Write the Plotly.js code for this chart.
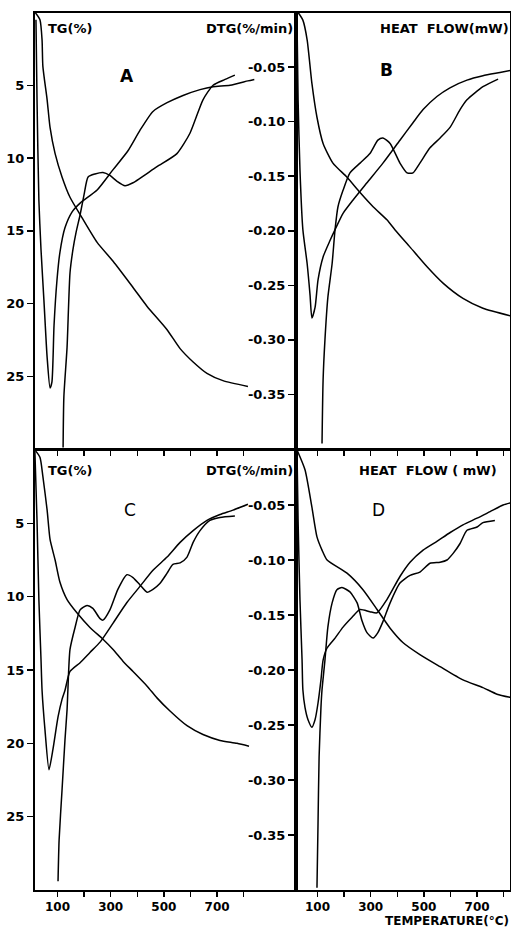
<!DOCTYPE html>
<html>
<head>
<meta charset="utf-8">
<script src="https://cdn.plot.ly/plotly-3.0.1.min.js"></script>
<style>html,body{margin:0;padding:0;background:#fff;}#chart{width:511px;height:930px;}</style>
</head>
<body>
<div id="chart"></div>
<script>
// ---------- Panel A (TG % scale) ----------
const A_tg_T  = [16, 34, 42, 45, 61, 72, 91, 117, 147, 192, 249, 309, 384, 437, 512, 561, 609, 662, 722, 816];
const A_tg    = [0, 0.5, 1.9, 3.7, 6.0, 7.9, 9.7, 11.3, 12.7, 14.1, 15.8, 17.1, 18.9, 20.2, 21.8, 23.1, 24.0, 24.8, 25.3, 25.7];
const A_dtg_T = [19, 23, 30, 38, 49, 61, 72, 79, 87, 98, 109, 128, 155, 185, 249, 309, 365, 410, 459, 512, 572, 636, 685, 749, 816, 840];
const A_dtg   = [0.5, 6.0, 12.9, 16.3, 19.8, 23.7, 25.8, 25.4, 21.5, 18.4, 16.5, 14.8, 13.7, 13.1, 12.2, 10.8, 9.5, 8.1, 6.8, 6.2, 5.7, 5.3, 5.1, 5.0, 4.7, 4.6];
const A_hf_T  = [121, 124, 136, 147, 158, 170, 185, 200, 215, 241, 271, 297, 324, 354, 384, 410, 474, 549, 598, 647, 685, 730, 767];
const A_hf    = [29.9, 26.4, 23.0, 17.9, 16.3, 15.1, 13.9, 12.5, 11.3, 11.1, 11.0, 11.2, 11.6, 11.9, 11.7, 11.4, 10.6, 9.7, 8.3, 6.0, 5.0, 4.6, 4.3];

// ---------- Panel B (heat-flow mW scale) ----------
const B_tg_T  = [27, 45, 61, 79, 98, 121, 158, 211, 260, 309, 361, 391, 448, 512, 572, 647, 722, 827];
const B_tg    = [0, -0.007, -0.025, -0.065, -0.096, -0.120, -0.138, -0.151, -0.165, -0.178, -0.190, -0.199, -0.215, -0.233, -0.248, -0.262, -0.271, -0.278];
const B_dtg_T = [23, 27, 34, 45, 61, 72, 79, 91, 102, 121, 147, 166, 196, 233, 286, 346, 410, 459, 497, 549, 598, 662, 722, 786, 827];
const B_dtg   = [-0.007, -0.080, -0.144, -0.199, -0.230, -0.259, -0.280, -0.270, -0.245, -0.224, -0.209, -0.199, -0.184, -0.172, -0.156, -0.138, -0.117, -0.101, -0.089, -0.077, -0.069, -0.062, -0.058, -0.055, -0.053];
const B_hf_T  = [117, 121, 128, 139, 155, 166, 177, 196, 222, 260, 298, 327, 346, 373, 410, 437, 459, 485, 523, 561, 599, 636, 662, 722, 779];
const B_hf    = [-0.395, -0.337, -0.300, -0.261, -0.230, -0.199, -0.178, -0.163, -0.147, -0.138, -0.129, -0.117, -0.115, -0.120, -0.138, -0.147, -0.147, -0.138, -0.124, -0.115, -0.105, -0.089, -0.080, -0.068, -0.061];

// ---------- Panel C (TG % scale) ----------
const C_tg_T  = [15, 34, 45, 61, 72, 91, 109, 136, 173, 222, 271, 309, 346, 384, 437, 474, 523, 587, 647, 711, 775, 820];
const C_tg    = [0, 0.5, 1.8, 4.1, 6.1, 7.5, 9.0, 10.2, 11.1, 12.1, 12.9, 13.6, 14.4, 15.1, 16.1, 16.9, 17.8, 18.8, 19.4, 19.8, 20.0, 20.2];
const C_dtg_T = [15, 23, 30, 38, 42, 53, 68, 83, 102, 117, 128, 147, 185, 222, 260, 309, 361, 410, 459, 512, 561, 610, 662, 711, 760, 816];
const C_dtg   = [0.1, 4.8, 10.2, 14.3, 16.4, 19.1, 21.8, 20.4, 18.2, 17.0, 16.4, 15.1, 14.5, 13.8, 13.1, 11.8, 10.4, 9.3, 8.2, 7.3, 6.3, 5.5, 4.8, 4.4, 4.1, 3.7];
const C_hf_T  = [102, 106, 117, 128, 136, 139, 147, 166, 185, 211, 233, 260, 271, 297, 327, 361, 384, 410, 437, 459, 485, 512, 534, 561, 587, 610, 636, 673, 711, 767];
const C_hf    = [29.4, 26.6, 23.2, 19.8, 17.7, 16.4, 13.6, 12.1, 10.9, 10.6, 10.8, 11.5, 11.6, 10.9, 9.5, 8.5, 8.7, 9.2, 9.7, 9.5, 9.1, 8.4, 7.8, 7.7, 7.3, 6.3, 5.5, 4.8, 4.6, 4.5];

// ---------- Panel D (heat-flow mW scale) ----------
const D_tg_T  = [23, 53, 79, 98, 117, 136, 211, 271, 324, 373, 421, 485, 561, 647, 722, 775, 827];
const D_tg    = [0, -0.018, -0.052, -0.079, -0.091, -0.100, -0.112, -0.127, -0.145, -0.162, -0.175, -0.186, -0.197, -0.209, -0.216, -0.222, -0.225];
const D_dtg_T = [23, 27, 34, 42, 45, 53, 64, 79, 91, 102, 113, 121, 136, 166, 196, 230, 260, 297, 324, 361, 410, 448, 497, 549, 599, 647, 700, 749, 798, 827];
const D_dtg   = [-0.002, -0.064, -0.136, -0.191, -0.218, -0.234, -0.245, -0.252, -0.245, -0.230, -0.209, -0.191, -0.180, -0.171, -0.161, -0.152, -0.145, -0.147, -0.148, -0.136, -0.115, -0.102, -0.091, -0.083, -0.075, -0.068, -0.062, -0.056, -0.050, -0.048];
const D_hf_T  = [98, 102, 106, 113, 117, 128, 139, 155, 173, 192, 222, 249, 267, 286, 309, 327, 346, 373, 410, 448, 485, 523, 561, 587, 610, 636, 662, 700, 722, 767];
const D_hf    = [-0.398, -0.339, -0.279, -0.234, -0.218, -0.191, -0.161, -0.139, -0.127, -0.125, -0.129, -0.139, -0.155, -0.166, -0.171, -0.166, -0.156, -0.139, -0.121, -0.114, -0.111, -0.103, -0.102, -0.100, -0.094, -0.085, -0.073, -0.070, -0.066, -0.064];

// ---------- Tick labels ----------
const tempTicks   = [100, 200, 300, 400, 500, 600, 700, 800];
const tempLabels  = ['100', '', '300', '', '500', '', '700', ''];
const tgTicks     = [5, 10, 15, 20, 25];
const tgLabels    = ['5', '10', '15', '20', '25'];
const hfTicks     = [-0.05, -0.10, -0.15, -0.20, -0.25, -0.30, -0.35];
const hfLabels    = ['-0.05', '-0.10', '-0.15', '-0.20', '-0.25', '-0.30', '-0.35'];

const W = 511, H = 930;
const px = v => v / W;
const py = v => 1 - v / H;

const lineStyle = {color: '#000', width: 1.5, shape: 'spline', smoothing: 0.6};
function tr(x, y, xa, ya) {
  return {x: x, y: y, xaxis: xa, yaxis: ya, type: 'scatter', mode: 'lines', line: lineStyle, hoverinfo: 'skip'};
}
const traces = [
  tr(A_tg_T, A_tg, 'x', 'y'), tr(A_dtg_T, A_dtg, 'x', 'y'), tr(A_hf_T, A_hf, 'x', 'y'),
  tr(B_tg_T, B_tg, 'x2', 'y2'), tr(B_dtg_T, B_dtg, 'x2', 'y2'), tr(B_hf_T, B_hf, 'x2', 'y2'),
  tr(C_tg_T, C_tg, 'x3', 'y3'), tr(C_dtg_T, C_dtg, 'x3', 'y3'), tr(C_hf_T, C_hf, 'x3', 'y3'),
  tr(D_tg_T, D_tg, 'x4', 'y4'), tr(D_dtg_T, D_dtg, 'x4', 'y4'), tr(D_hf_T, D_hf, 'x4', 'y4')
];

const xTickFont = {family: 'DejaVu Sans', size: 12, color: '#000', weight: 700};
const yTickFont = {family: 'DejaVu Sans', size: 13, color: '#000', weight: 700};
const leftX = [px(35), px(296)], rightX = [px(296), px(510)];
const topY = [py(449), py(12.5)], botY = [py(890), py(450)];
const leftRange = [100 + (35 - 57.5) * 3.76, 100 + (296 - 57.5) * 3.76];
const rightRange = [100 + (296 - 317.5) * 3.76, 100 + (510 - 317.5) * 3.76];

function xax(domain, range, anchor, labels) {
  return {domain: domain, range: range, anchor: anchor, showline: true, linecolor: '#000', linewidth: 2,
    mirror: true, ticks: 'outside', ticklen: 5, tickwidth: 1.5, tickcolor: '#000',
    tickvals: tempTicks, ticktext: labels ? tempLabels : tempTicks.map(() => ''),
    showticklabels: !!labels, tickfont: xTickFont, showgrid: false, zeroline: false, fixedrange: true};
}
function yax(domain, range, anchor, vals, text) {
  return {domain: domain, range: range, anchor: anchor, showline: true, linecolor: '#000', linewidth: 2,
    mirror: true, ticks: 'outside', ticklen: 6, tickwidth: 1.5, tickcolor: '#000',
    tickvals: vals, ticktext: text, tickfont: yTickFont, showgrid: false, zeroline: false, fixedrange: true};
}

const labFont = {family: 'DejaVu Sans', size: 13, color: '#000', weight: 700};
const bigFont = {family: 'DejaVu Sans', size: 17, color: '#000', weight: 400};
function ann(text, x, y, xanchor, font) {
  return {text: text, x: px(x), y: py(y), xref: 'paper', yref: 'paper', xanchor: xanchor, yanchor: 'middle',
    showarrow: false, font: font || labFont};
}

const layout = {
  width: W, height: H, autosize: false,
  margin: {l: 0, r: 0, t: 0, b: 0, pad: 0},
  paper_bgcolor: '#fff', plot_bgcolor: '#fff', showlegend: false,
  xaxis:  xax(leftX, leftRange, 'y', false),
  yaxis:  yax(topY, [30, 0], 'x', tgTicks, tgLabels),
  xaxis2: xax(rightX, rightRange, 'y2', false),
  yaxis2: yax(topY, [-0.4, 0], 'x2', hfTicks, hfLabels),
  xaxis3: xax(leftX, leftRange, 'y3', true),
  yaxis3: yax(botY, [30, 0], 'x3', tgTicks, tgLabels),
  xaxis4: xax(rightX, rightRange, 'y4', true),
  yaxis4: yax(botY, [-0.4, 0], 'x4', hfTicks, hfLabels),
  annotations: [
    ann('TG(%)', 46, 28, 'left'),
    ann('DTG(%/min)', 295, 28, 'right'),
    ann('HEAT  FLOW(mW)', 511, 28, 'right'),
    ann('TG(%)', 46, 470, 'left'),
    ann('DTG(%/min)', 295, 470, 'right'),
    ann('HEAT  FLOW ( mW)', 499, 470, 'right'),
    ann('<b>A</b>', 127, 76, 'center', bigFont),
    ann('<b>B</b>', 386, 70, 'center', bigFont),
    ann('C', 130, 510, 'center', bigFont),
    ann('D', 378, 510, 'center', bigFont),
    ann('TEMPERATURE(°C)', 511, 921, 'right', {family: 'DejaVu Sans', size: 12, color: '#000', weight: 700})
  ]
};

Plotly.newPlot('chart', traces, layout, {staticPlot: true, displayModeBar: false});
</script>
</body>
</html>
